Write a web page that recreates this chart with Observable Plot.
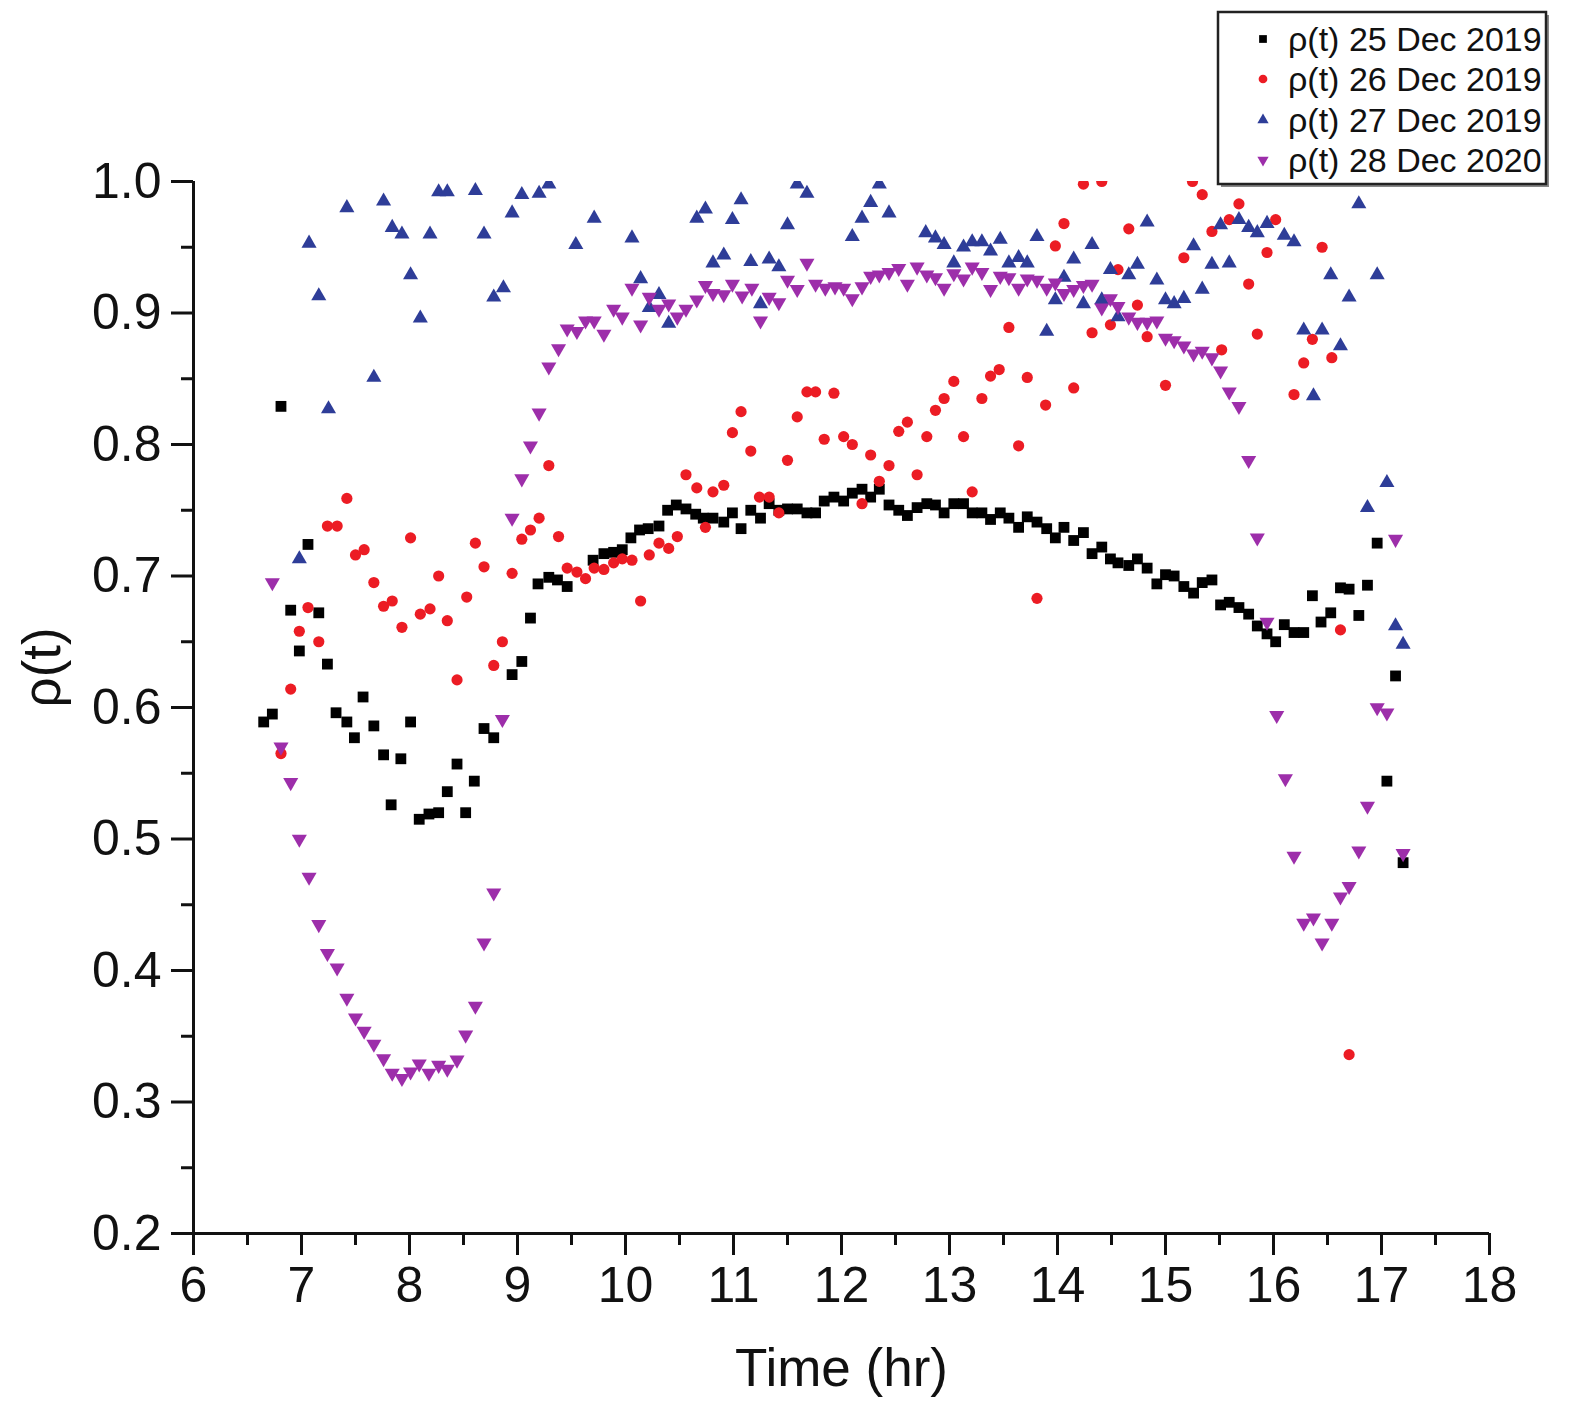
<!DOCTYPE html>
<html>
<head>
<meta charset="utf-8">
<script src="https://cdn.jsdelivr.net/npm/d3@7"></script>
<script src="https://cdn.jsdelivr.net/npm/@observablehq/plot@0.6"></script>
<style>
  body { margin: 0; background: #fff; }
  #wrap { position: relative; width: 1575px; height: 1404px; font-family: "Liberation Sans", Arial, sans-serif; }
  #legend { position: absolute; left: 1205px; top: 0px; }
</style>
</head>
<body>
<div id="wrap"><div id="chart"></div><div id="legend"></div></div>
<script>
// ---- Data (time in hours, rho values) ----
const seriesNames = ["ρ(t) 25 Dec 2019", "ρ(t) 26 Dec 2019", "ρ(t) 27 Dec 2019", "ρ(t) 28 Dec 2020"];

const t25 = [6.65,6.73,6.81,6.90,6.98,7.06,7.16,7.24,7.32,7.42,7.49,7.57,7.67,7.76,7.83,7.92,8.01,8.09,8.18,8.27,8.35,8.44,8.52,8.60,8.69,8.78,8.95,9.04,9.12,9.19,9.29,9.37,9.46,9.70,9.80,9.89,9.97,10.05,10.13,10.21,10.31,10.39,10.47,10.56,10.65,10.72,10.81,10.91,10.99,11.07,11.16,11.25,11.33,11.42,11.50,11.59,11.68,11.76,11.84,11.93,12.02,12.10,12.19,12.27,12.35,12.44,12.53,12.61,12.70,12.79,12.87,12.95,13.04,13.13,13.21,13.30,13.38,13.47,13.55,13.64,13.72,13.81,13.90,13.98,14.06,14.15,14.24,14.32,14.41,14.49,14.56,14.66,14.74,14.83,14.92,15.00,15.08,15.17,15.26,15.34,15.43,15.51,15.59,15.68,15.77,15.85,15.94,16.02,16.10,16.19,16.28,16.36,16.44,16.53,16.62,16.70,16.79,16.87,16.96,17.05,17.13,17.20];
const rho25 = [0.589,0.595,0.829,0.674,0.643,0.724,0.672,0.633,0.596,0.589,0.577,0.608,0.586,0.564,0.526,0.561,0.589,0.515,0.519,0.520,0.536,0.557,0.520,0.544,0.584,0.577,0.625,0.635,0.668,0.694,0.699,0.697,0.692,0.712,0.717,0.718,0.720,0.729,0.735,0.736,0.738,0.750,0.754,0.751,0.747,0.744,0.744,0.741,0.748,0.736,0.750,0.744,0.755,0.750,0.751,0.751,0.748,0.748,0.757,0.760,0.757,0.763,0.766,0.760,0.766,0.754,0.750,0.746,0.752,0.755,0.754,0.748,0.755,0.755,0.748,0.748,0.743,0.748,0.744,0.737,0.745,0.741,0.736,0.729,0.737,0.727,0.733,0.717,0.722,0.713,0.710,0.708,0.713,0.706,0.694,0.701,0.700,0.692,0.687,0.695,0.697,0.678,0.680,0.676,0.671,0.662,0.656,0.650,0.663,0.657,0.657,0.685,0.665,0.672,0.691,0.690,0.670,0.693,0.725,0.544,0.624,0.482];

const t26 = [6.81,6.90,6.98,7.06,7.16,7.24,7.33,7.42,7.50,7.58,7.67,7.76,7.84,7.93,8.01,8.10,8.19,8.27,8.35,8.44,8.53,8.61,8.69,8.78,8.86,8.95,9.04,9.12,9.20,9.29,9.38,9.46,9.55,9.63,9.71,9.80,9.89,9.97,10.06,10.14,10.22,10.31,10.40,10.48,10.56,10.66,10.74,10.81,10.91,10.99,11.07,11.16,11.24,11.33,11.42,11.50,11.59,11.68,11.76,11.84,11.93,12.02,12.10,12.19,12.27,12.35,12.44,12.53,12.61,12.70,12.79,12.87,12.95,13.04,13.13,13.21,13.30,13.38,13.46,13.55,13.64,13.72,13.81,13.89,13.98,14.06,14.15,14.24,14.32,14.41,14.49,14.56,14.66,14.74,14.83,15.00,15.17,15.25,15.34,15.43,15.52,15.59,15.68,15.77,15.85,15.94,16.02,16.19,16.28,16.36,16.45,16.54,16.62,16.70];
const rho26 = [0.565,0.614,0.658,0.676,0.650,0.738,0.738,0.759,0.716,0.720,0.695,0.677,0.681,0.661,0.729,0.671,0.675,0.700,0.666,0.621,0.684,0.725,0.707,0.632,0.650,0.702,0.728,0.735,0.744,0.784,0.730,0.706,0.703,0.698,0.706,0.705,0.710,0.713,0.712,0.681,0.716,0.725,0.721,0.730,0.777,0.767,0.737,0.764,0.769,0.809,0.825,0.795,0.760,0.760,0.748,0.788,0.821,0.840,0.840,0.804,0.839,0.806,0.800,0.755,0.792,0.772,0.784,0.810,0.817,0.777,0.806,0.826,0.835,0.848,0.806,0.764,0.835,0.852,0.857,0.889,0.799,0.851,0.683,0.830,0.951,0.968,0.843,0.998,0.885,1.000,0.891,0.933,0.964,0.906,0.882,0.845,0.942,1.000,0.990,0.962,0.872,0.971,0.983,0.922,0.884,0.946,0.971,0.838,0.862,0.880,0.950,0.866,0.659,0.336];

const t27 = [6.98,7.07,7.16,7.25,7.42,7.67,7.76,7.84,7.93,8.01,8.10,8.19,8.27,8.35,8.61,8.69,8.78,8.87,8.95,9.04,9.20,9.29,9.54,9.71,10.06,10.14,10.22,10.31,10.40,10.66,10.74,10.81,10.91,10.99,11.07,11.16,11.25,11.33,11.42,11.50,11.59,11.68,12.10,12.19,12.27,12.35,12.44,12.78,12.87,12.95,13.04,13.13,13.21,13.30,13.38,13.47,13.55,13.64,13.72,13.81,13.90,13.98,14.06,14.15,14.24,14.32,14.41,14.49,14.56,14.66,14.74,14.83,14.92,15.00,15.08,15.17,15.26,15.34,15.43,15.51,15.59,15.68,15.77,15.85,15.94,16.10,16.19,16.28,16.37,16.45,16.53,16.62,16.70,16.79,16.87,16.96,17.05,17.13,17.20];
const rho27 = [0.713,0.953,0.913,0.827,0.980,0.851,0.985,0.965,0.960,0.929,0.896,0.960,0.992,0.992,0.993,0.960,0.912,0.919,0.976,0.990,0.991,0.998,0.952,0.972,0.957,0.926,0.904,0.914,0.892,0.972,0.979,0.938,0.944,0.971,0.986,0.939,0.907,0.941,0.935,0.967,0.998,0.991,0.958,0.972,0.984,0.998,0.976,0.961,0.957,0.952,0.938,0.950,0.954,0.954,0.947,0.956,0.938,0.942,0.938,0.958,0.886,0.910,0.927,0.941,0.907,0.952,0.910,0.933,0.897,0.929,0.937,0.969,0.925,0.910,0.907,0.911,0.951,0.918,0.937,0.967,0.938,0.971,0.965,0.961,0.968,0.959,0.954,0.887,0.837,0.887,0.929,0.875,0.912,0.983,0.752,0.929,0.771,0.662,0.648];

const t28 = [6.73,6.81,6.90,6.98,7.07,7.16,7.24,7.33,7.42,7.50,7.58,7.67,7.76,7.84,7.93,8.01,8.09,8.18,8.27,8.35,8.44,8.52,8.61,8.69,8.78,8.86,8.95,9.04,9.12,9.20,9.29,9.38,9.46,9.55,9.63,9.71,9.80,9.89,9.97,10.06,10.14,10.22,10.31,10.40,10.48,10.56,10.66,10.74,10.81,10.91,10.99,11.08,11.17,11.25,11.33,11.42,11.50,11.59,11.68,11.76,11.85,11.94,12.02,12.10,12.19,12.27,12.35,12.44,12.53,12.61,12.70,12.79,12.87,12.95,13.04,13.13,13.21,13.30,13.38,13.47,13.55,13.64,13.72,13.81,13.90,13.98,14.06,14.15,14.24,14.32,14.41,14.49,14.56,14.66,14.74,14.83,14.92,15.00,15.08,15.17,15.26,15.34,15.43,15.51,15.59,15.68,15.77,15.85,15.94,16.03,16.11,16.19,16.28,16.37,16.45,16.54,16.62,16.70,16.79,16.87,16.96,17.05,17.13,17.20];
const rho28 = [0.695,0.570,0.543,0.500,0.471,0.435,0.413,0.402,0.379,0.364,0.354,0.344,0.333,0.322,0.318,0.323,0.329,0.322,0.328,0.325,0.332,0.351,0.373,0.421,0.459,0.591,0.744,0.774,0.799,0.824,0.859,0.873,0.888,0.886,0.894,0.894,0.884,0.903,0.897,0.919,0.891,0.912,0.903,0.907,0.897,0.903,0.910,0.921,0.915,0.914,0.922,0.913,0.919,0.894,0.912,0.908,0.925,0.918,0.938,0.922,0.919,0.920,0.919,0.911,0.920,0.928,0.929,0.931,0.934,0.922,0.935,0.929,0.927,0.919,0.930,0.926,0.935,0.931,0.918,0.928,0.927,0.919,0.926,0.925,0.919,0.923,0.915,0.918,0.921,0.922,0.904,0.911,0.905,0.897,0.893,0.893,0.894,0.881,0.879,0.875,0.869,0.871,0.866,0.856,0.840,0.829,0.788,0.729,0.665,0.594,0.546,0.487,0.436,0.440,0.421,0.436,0.456,0.464,0.491,0.525,0.600,0.596,0.728,0.489];

const xTicks = [6,7,8,9,10,11,12,13,14,15,16,17,18];
const xMinorTicks = [6.5,7.5,8.5,9.5,10.5,11.5,12.5,13.5,14.5,15.5,16.5,17.5];
const yTicks = [0.2,0.3,0.4,0.5,0.6,0.7,0.8,0.9,1.0];
const yMinorTicks = [0.25,0.35,0.45,0.55,0.65,0.75,0.85,0.95];

const colors = ["#000000", "#ec1c24", "#2e3d98", "#9d2eaa"];

// ---- Build rows ----
function rows(ts, vs) {
  const n = Math.min(ts.length, vs.length);
  return d3.range(n).map(i => ({t: ts[i], rho: vs[i]}));
}
const d25 = rows(t25, rho25), d26 = rows(t26, rho26), d27 = rows(t27, rho27), d28 = rows(t28, rho28);

const font = '"Liberation Sans", Arial, Helvetica, sans-serif';

const chart = Plot.plot({
  width: 1575,
  height: 1404,
  marginLeft: 193,
  marginRight: 86,
  marginTop: 181,
  marginBottom: 171,
  x: {domain: [6, 18]},
  y: {domain: [0.2, 1.0]},
  style: {fontFamily: font, fontSize: "49px", color: "#111", background: "white", overflow: "visible"},
  marks: [
    Plot.axisX({ticks: xMinorTicks, tickSize: 12, strokeWidth: 3, tickFormat: () => "", label: null}),
    Plot.axisX({ticks: xTicks, tickSize: 22, tickPadding: 11, strokeWidth: 3, tickFormat: d => String(d), label: null, fontSize: 50}),
    Plot.axisY({ticks: yMinorTicks, tickSize: 12, strokeWidth: 3, tickFormat: () => "", label: null}),
    Plot.axisY({ticks: yTicks, tickSize: 22, tickPadding: 10, strokeWidth: 3, tickFormat: d3.format(".1f"), label: null, fontSize: 50}),
    Plot.ruleX([6], {stroke: "#111", strokeWidth: 3}),
    Plot.ruleY([0.2], {stroke: "#111", strokeWidth: 3}),
    Plot.dot(d25, {x: "t", y: "rho", symbol: "square", r: 6.1, fill: colors[0], stroke: "none", clip: true}),
    Plot.dot(d26, {x: "t", y: "rho", symbol: "circle", r: 5.6, fill: colors[1], stroke: "none", clip: true}),
    Plot.dot(d27, {x: "t", y: "rho", symbol: "triangle", r: 5.6, fill: colors[2], stroke: "none", clip: true}),
    Plot.dot(d28, {x: "t", y: "rho", symbol: "triangle", r: 5.6, rotate: 180, fill: colors[3], stroke: "none", clip: true}),
    Plot.text(["Time (hr)"], {text: d => d, frameAnchor: "bottom", dy: 152, fontSize: 53, fill: "#111"}),
    Plot.text(["ρ(t)"], {text: d => d, frameAnchor: "left", dx: -150, rotate: -90, fontSize: 53, fill: "#111"})
  ]
});
document.getElementById("chart").appendChild(chart);

// ---- Legend ----
const lg = d3.select("#legend").append("svg").attr("width", 370).attr("height", 200)
  .style("font-family", font);
lg.append("rect").attr("x", 16).attr("y", 15).attr("width", 328).attr("height", 172).attr("fill", "#888");
lg.append("rect").attr("x", 13).attr("y", 12).attr("width", 328).attr("height", 172)
  .attr("fill", "#fff").attr("stroke", "#222").attr("stroke-width", 2.5);
const symbols = [d3.symbolSquare, d3.symbolCircle, d3.symbolTriangle, d3.symbolTriangle];
const sizes = [60, 60, 55, 55];
const rowY = [39, 79, 120, 160];
seriesNames.forEach((name, i) => {
  const g = lg.append("g").attr("transform", `translate(0,${rowY[i]})`);
  g.append("path")
    .attr("d", d3.symbol(symbols[i], sizes[i])())
    .attr("transform", `translate(58,0)${i === 3 ? " rotate(180)" : ""}`)
    .attr("fill", colors[i]);
  g.append("text").attr("x", 83).attr("y", 0).attr("dy", "0.35em")
    .attr("font-size", 34).attr("fill", "#111").text(name);
});
</script>
</body>
</html>
